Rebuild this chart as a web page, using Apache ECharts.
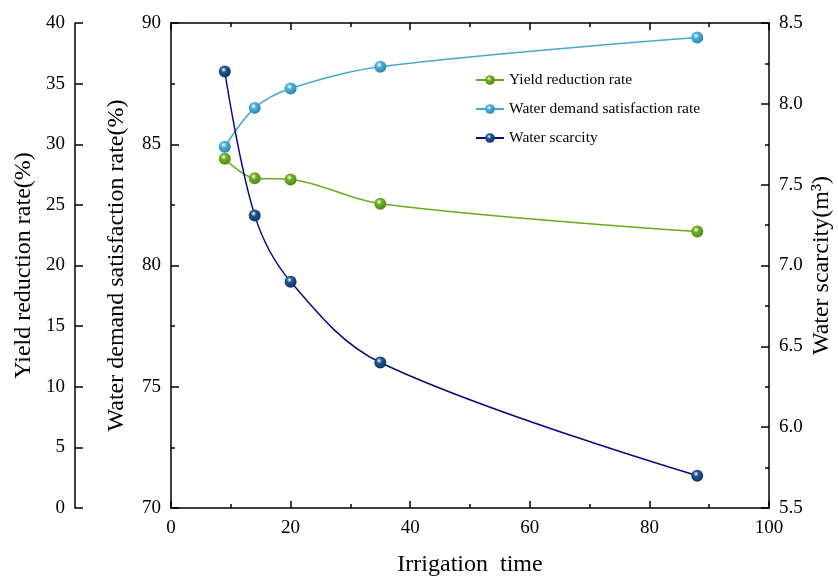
<!DOCTYPE html>
<html><head><meta charset="utf-8">
<script src="https://cdn.jsdelivr.net/npm/echarts@6/dist/echarts.min.js"></script>
<style>html,body{margin:0;padding:0;background:#fff}#c{width:838px;height:576px}</style>
</head><body><div id="c"></div>
<script>
const irrigationTime = [9, 14, 20, 35, 88];
const yieldReduction = [28.8, 27.2, 27.1, 25.1, 22.8];
const waterDemandSatisfaction = [84.9, 86.5, 87.3, 88.2, 89.4];
const waterScarcity = [8.2, 7.31, 6.9, 6.4, 5.7];
const seriesNames = ['Yield reduction rate', 'Water demand satisfaction rate', 'Water scarcity'];

const FONT = '"Liberation Serif","Times New Roman",serif';
function ball(c, dark){
  return new echarts.graphic.RadialGradient(0.4, 0.35, 0.65, [
    {offset:0, color:'#ffffff'},{offset:0.35, color:c},{offset:1, color:dark}]);
}
function pairs(ys){ return irrigationTime.map((x,i)=>[x, ys[i]]); }
const axisLine = {show:true, onZero:false, lineStyle:{color:'#000', width:1.5}};
const tick = {inside:true, length:8, lineStyle:{color:'#000', width:1.5}};
const minor = {show:true, splitNumber:2, length:4, lineStyle:{color:'#000', width:1.5}};
const lbl = {fontFamily:FONT, fontSize:19, color:'#000', margin:9};
const nameStyle = {fontFamily:FONT, fontSize:24, color:'#000'};
const chart = echarts.init(document.getElementById('c'));
chart.setOption({
  animation:false,
  grid:{left:171, right:69, top:23, bottom:68, containLabel:false, outerBoundsMode:'none'},
  legend:{orient:'vertical', left:475, top:72, padding:0, itemGap:13, itemWidth:28, itemHeight:12,
    textStyle:{fontFamily:FONT, fontSize:15.5, color:'#000'}, data:seriesNames},
  xAxis:[
    {type:'value', min:0, max:100, interval:20, position:'bottom',
     name:'Irrigation  time', nameLocation:'middle', nameGap:45, nameTextStyle:nameStyle,
     axisLine, axisTick:{...tick, length:7}, minorTick:minor,
     axisLabel:{...lbl, margin:11}, splitLine:{show:false}},
    {type:'value', min:0, max:100, interval:20, position:'top',
     axisLine, axisTick:{...tick, length:7}, minorTick:minor,
     axisLabel:{show:false}, splitLine:{show:false}}
  ],
  yAxis:[
    {type:'value', min:0, max:40, interval:5, position:'left', offset:96,
     name:'Yield reduction rate(%)', nameLocation:'middle', nameGap:39, nameMoveOverlap:false, nameTextStyle:nameStyle,
     axisLine, axisTick:tick, axisLabel:{...lbl, margin:10}, splitLine:{show:false}},
    {type:'value', min:70, max:90, interval:5, position:'left', offset:0,
     name:'Water demand satisfaction rate(%)', nameLocation:'middle', nameGap:42, nameMoveOverlap:false, nameTextStyle:nameStyle,
     axisLine, axisTick:tick, minorTick:minor,
     axisLabel:{...lbl, margin:10}, splitLine:{show:false}},
    {type:'value', min:5.5, max:8.5, interval:0.5, position:'right',
     name:'Water scarcity(m³)', nameLocation:'middle', nameGap:41, nameMoveOverlap:false, nameTextStyle:nameStyle,
     axisLine, axisTick:tick, minorTick:minor,
     axisLabel:{...lbl, margin:10, formatter:v=>v.toFixed(1)}, splitLine:{show:false}}
  ],
  series:[
    {name:seriesNames[0], type:'line', yAxisIndex:0, data:pairs(yieldReduction),
     smooth:0.35, symbol:'circle', symbolSize:12,
     lineStyle:{color:'#6aaa1e', width:1.5},
     itemStyle:{color:ball('#72b024','#4f8a10')}},
    {name:seriesNames[1], type:'line', yAxisIndex:1, data:pairs(waterDemandSatisfaction),
     smooth:0.35, symbol:'circle', symbolSize:12,
     lineStyle:{color:'#45a8cf', width:1.5},
     itemStyle:{color:ball('#4fb0d6','#2a86b0')}},
    {name:seriesNames[2], type:'line', yAxisIndex:2, data:pairs(waterScarcity),
     smooth:0.35, symbol:'circle', symbolSize:12,
     lineStyle:{color:'#0a0a80', width:1.5},
     itemStyle:{color:ball('#1f5590','#0d3566')}}
  ]
});
</script></body></html>
